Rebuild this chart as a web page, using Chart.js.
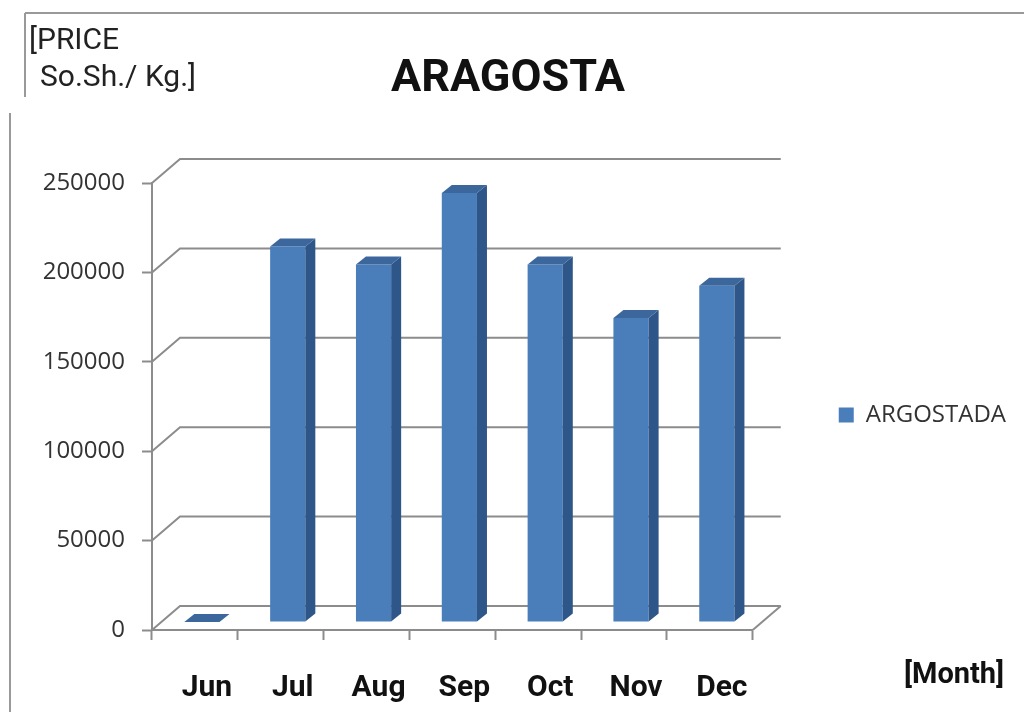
<!DOCTYPE html>
<html>
<head>
<meta charset="utf-8">
<title>ARAGOSTA</title>
<script src="https://cdn.jsdelivr.net/npm/chart.js@4.4.1/dist/chart.umd.min.js"></script>
<style>
  html, body { margin: 0; padding: 0; background: #fff; }
  #wrap { width: 1024px; height: 712px; }
</style>
</head>
<body>
<div id="wrap"><canvas id="myChart" width="1024" height="712"></canvas></div>
<script>
// data
const months = ['Jun', 'Jul', 'Aug', 'Sep', 'Oct', 'Nov', 'Dec'];
const prices = [0, 210000, 200000, 240000, 200000, 170000, 188000];
const yTicks = [0, 50000, 100000, 150000, 200000, 250000];
const seriesName = 'ARGOSTADA';
const chartTitle = 'ARAGOSTA';
const yTitle = ['[PRICE', 'So.Sh./ Kg.]'];
const xTitle = '[Month]';

// 3d look
const WALL_DX = 28, WALL_DY = 24;   // back wall offset
const BAR_DX = 7, BAR_DY = -8;      // bars sit a bit behind the front edge
const SIDE_DX = 10, SIDE_DY = 8;    // bar depth
const gridColor = '#8c8c8c';

const wall3d = {
    id: 'wall3d',
    beforeDatasetsDraw(chart) {
        const {ctx, chartArea: a, scales: {y}} = chart;
        ctx.save();
        ctx.strokeStyle = gridColor;
        ctx.lineWidth = 2;
        yTicks.forEach(v => {
            const py = y.getPixelForValue(v);
            ctx.beginPath();
            ctx.moveTo(a.left, py);
            ctx.lineTo(a.left + WALL_DX, py - WALL_DY);
            ctx.lineTo(a.right + WALL_DX, py - WALL_DY);
            ctx.stroke();
        });
        // floor right edge
        const p0 = y.getPixelForValue(0);
        ctx.beginPath();
        ctx.moveTo(a.right, p0);
        ctx.lineTo(a.right + WALL_DX, p0 - WALL_DY);
        ctx.stroke();
        ctx.restore();

        ctx.save();
        ctx.translate(BAR_DX, BAR_DY);
    },
    afterDatasetsDraw(chart) {
        const {ctx} = chart;
        chart.getDatasetMeta(0).data.forEach(bar => {
            const {x, y, base, width} = bar.getProps(['x', 'y', 'base', 'width'], true);
            const x1 = x - width / 2, x2 = x + width / 2;
            // side
            ctx.fillStyle = '#2e5688';
            ctx.beginPath();
            ctx.moveTo(x2, base);
            ctx.lineTo(x2 + SIDE_DX, base - SIDE_DY);
            ctx.lineTo(x2 + SIDE_DX, y - SIDE_DY);
            ctx.lineTo(x2, y);
            ctx.closePath();
            ctx.fill();
            // top
            ctx.fillStyle = '#3c679d';
            ctx.beginPath();
            ctx.moveTo(x1, y);
            ctx.lineTo(x1 + SIDE_DX, y - SIDE_DY);
            ctx.lineTo(x2 + SIDE_DX, y - SIDE_DY);
            ctx.lineTo(x2, y);
            ctx.closePath();
            ctx.fill();
        });
        ctx.restore();
    },
    afterDraw(chart) {
        const {ctx} = chart;
        ctx.save();
        // frame bits of the original picture
        ctx.strokeStyle = '#999';
        ctx.lineWidth = 2;
        ctx.beginPath();
        ctx.moveTo(25, 13); ctx.lineTo(1024, 13);
        ctx.moveTo(25, 13); ctx.lineTo(25, 97);
        ctx.moveTo(10, 113); ctx.lineTo(10, 712);
        ctx.stroke();

        ctx.fillStyle = '#222';
        ctx.textAlign = 'left';
        ctx.textBaseline = 'alphabetic';
        ctx.font = '30px Roboto';
        ctx.fillText(yTitle[0], 29, 49);
        ctx.fillText(yTitle[1], 40, 86);

        ctx.font = 'bold 29px Roboto';
        ctx.fillStyle = '#111';
        ctx.fillText(xTitle, 904, 683);
        ctx.restore();
    }
};

const ctx = document.getElementById('myChart').getContext('2d');
const myChart = new Chart(ctx, {
    type: 'bar',
    data: {
        labels: months,
        datasets: [{
            label: seriesName,
            data: prices,
            backgroundColor: '#4a7ebb',
            borderWidth: 0,
            barPercentage: 0.41,
            categoryPercentage: 1,
            clip: false
        }]
    },
    options: {
        responsive: false,
        animation: false,
        layout: {
            padding: { left: 0, right: 8, top: 0, bottom: 0 }
        },
        plugins: {
            title: {
                display: true,
                text: chartTitle,
                color: '#111',
                font: { family: 'Roboto', size: 45, weight: 'bold' },
                padding: { top: 53, bottom: 76 }
            },
            legend: {
                position: 'right',
                fullSize: false,
                maxWidth: 320,
                title: { display: true, text: '', padding: 0, font: { size: 14 } },
                labels: {
                    boxWidth: 15,
                    boxHeight: 15,
                    padding: 86,
                    color: '#333',
                    font: { family: 'Open Sans', size: 24 }
                }
            },
            tooltip: { enabled: false }
        },
        scales: {
            x: {
                grid: {
                    offset: true,
                    drawOnChartArea: false,
                    drawTicks: true,
                    tickLength: 10,
                    tickColor: gridColor,
                    tickWidth: 2
                },
                border: { display: true, color: gridColor, width: 2 },
                ticks: {
                    color: '#111',
                    font: { family: 'Roboto', size: 30, weight: 'bold' },
                    padding: 30,
                    labelOffset: 12,
                    maxRotation: 0
                },
                afterFit: s => { s.height = 82; }
            },
            y: {
                min: 0,
                max: 250000,
                afterBuildTicks: s => { s.ticks = yTicks.map(v => ({ value: v })); },
                grid: {
                    drawOnChartArea: false,
                    drawTicks: true,
                    tickLength: 10,
                    tickColor: gridColor,
                    tickWidth: 2
                },
                border: { display: true, color: gridColor, width: 2 },
                ticks: {
                    color: '#333',
                    font: { family: 'Open Sans', size: 24 },
                    padding: 17,
                    callback: v => String(v)
                },
                afterFit: s => { s.width = 152; }
            }
        }
    },
    plugins: [wall3d]
});
</script>
</body>
</html>
